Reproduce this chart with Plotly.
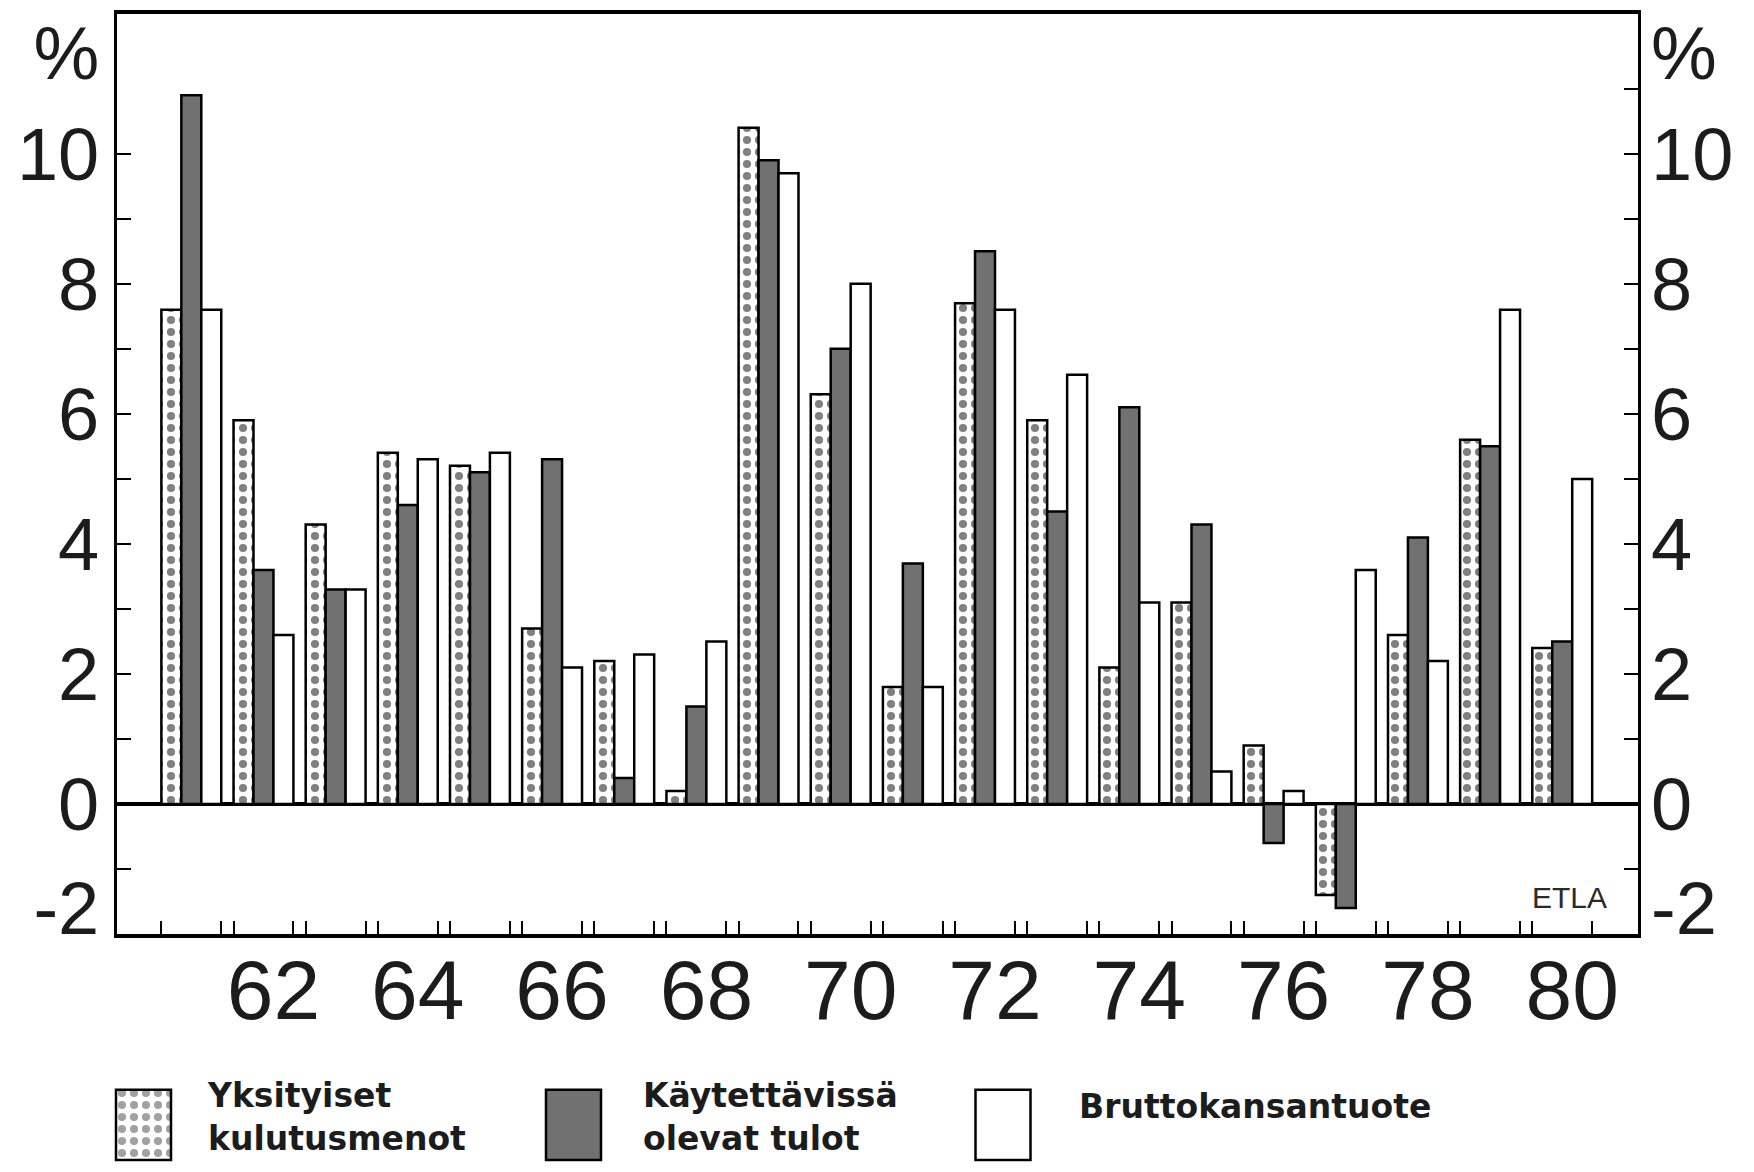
import plotly.graph_objects as go

# ---------------- data ----------------
years = list(range(1961, 1981))
consumption = [7.6, 5.9, 4.3, 5.4, 5.2, 2.7, 2.2, 0.2, 10.4, 6.3,
               1.8, 7.7, 5.9, 2.1, 3.1, 0.9, -1.4, 2.6, 5.6, 2.4]
income = [10.9, 3.6, 3.3, 4.6, 5.1, 5.3, 0.4, 1.5, 9.9, 7.0,
          3.7, 8.5, 4.5, 6.1, 4.3, -0.6, -1.6, 4.1, 5.5, 2.5]
gdp = [7.6, 2.6, 3.3, 5.3, 5.4, 2.1, 2.3, 2.5, 9.7, 8.0,
       1.8, 7.6, 6.6, 3.1, 0.5, 0.2, 3.6, 2.2, 7.6, 5.0]

x_tick_years = [1962, 1964, 1966, 1968, 1970, 1972, 1974, 1976, 1978, 1980]
x_tick_text = ["62", "64", "66", "68", "70", "72", "74", "76", "78", "80"]
y_tick_text = ["-2", "0", "2", "4", "6", "8", "10", "%"]
series_names = ["Yksityiset<br>kulutusmenot", "Käytettävissä<br>olevat tulot", "Bruttokansantuote"]

# ---------------- layout constants ----------------
OFF = 8                      # default page (body) margin around the figure
WF, HF = 1754 - 2 * OFF, 1172 - 2 * OFF
PL, PR, PT, PB = 117, 1638, 14, 934          # plot frame in page pixels
Y_RANGE = [-2, 12.15]
X_RANGE = [1959.97, 1981.05]
BARGAP = 0.17
Y_LABEL_POS = [-1.6, 0, 2, 4, 6, 8, 10, 11.55]  # where the y labels sit
DARK = "#717171"
INK = "#1c1c1c"
FONT = "Liberation Sans, Arial, sans-serif"
LEG_FONT = "DejaVu Sans, sans-serif"


def fx(p):
    return (p - OFF) / WF


def fy(p):
    return (HF - (p - OFF)) / HF


dots = dict(shape=".", fgcolor="black", bgcolor="white", size=12, solidity=0.36)
edge = dict(color="black", width=2.5)

fig = go.Figure()
fig.add_trace(go.Bar(x=years, y=consumption, name=series_names[0],
                     marker=dict(color="white", pattern=dots, line=edge)))
fig.add_trace(go.Bar(x=years, y=income, name=series_names[1],
                     marker=dict(color=DARK, line=edge)))
fig.add_trace(go.Bar(x=years, y=gdp, name=series_names[2],
                     marker=dict(color="white", line=edge)))

# empty helper traces so the overlay tick axes get drawn
for xa, ya in [("x2", "y"), ("x", "y2"), ("x", "y3"), ("x", "y4")]:
    fig.add_trace(go.Scatter(x=[None], y=[None], xaxis=xa, yaxis=ya, mode="markers",
                             showlegend=False, hoverinfo="skip"))

# legend swatches drawn as bars in their own small subplot (x in page pixels)
LEG_X = [143.5, 573.5, 1003]
LEG_W = 55
fig.add_trace(go.Bar(
    x=LEG_X, y=[1, 1, 1], width=LEG_W, xaxis="x3", yaxis="y5",
    marker=dict(color=["white", DARK, "white"],
                pattern=dict(shape=[".", "", ""], fgcolor="black", bgcolor="white",
                             size=12, solidity=0.36),
                line=edge),
    showlegend=False, hoverinfo="skip"))

edges = []
half = (1 - BARGAP) / 2
for yv in years:
    edges += [yv - half, yv + half]

xdom = [fx(PL), fx(PR)]
ydom = [fy(PB), fy(PT)]

xfont = dict(size=84, color=INK, family=FONT)
yfont = dict(size=74, color=INK, family=FONT)
nomargin = dict(automargin=False)

fig.update_layout(
    width=WF, height=HF,
    margin=dict(l=0, r=0, t=0, b=0, pad=0),
    paper_bgcolor="white", plot_bgcolor="white",
    barmode="group", bargap=BARGAP, bargroupgap=0,
    showlegend=False,
    font=dict(family=FONT, color=INK),
    xaxis=dict(domain=xdom, range=X_RANGE, anchor="y", **nomargin,
               tickmode="array", tickvals=x_tick_years, ticktext=x_tick_text,
               ticks="", showgrid=False, zeroline=False,
               showline=True, mirror=True, linewidth=4, linecolor="black",
               tickfont=xfont, ticklabelshift=10, ticklabelstandoff=-20,
               ticklabeloverflow="allow"),
    xaxis2=dict(overlaying="x", anchor="y", side="bottom", range=X_RANGE, **nomargin,
                tickmode="array", tickvals=edges, ticks="inside", ticklen=13,
                tickwidth=2, tickcolor="black", showticklabels=False,
                showgrid=False, zeroline=False, showline=False),
    yaxis=dict(domain=ydom, anchor="x", range=Y_RANGE, showgrid=False, **nomargin,
               zeroline=True, zerolinewidth=3.5, zerolinecolor="black",
               tickmode="array", tickvals=Y_LABEL_POS, ticktext=y_tick_text,
               ticks="", showline=True, mirror=True, linewidth=3, linecolor="black",
               tickfont=yfont, ticklabelstandoff=0, ticklabeloverflow="allow"),
    yaxis2=dict(overlaying="y", anchor="x", side="left", range=Y_RANGE, **nomargin,
                showgrid=False, zeroline=False,
                tickmode="array", tickvals=list(range(-1, 11)), ticks="inside",
                ticklen=14, tickwidth=2, tickcolor="black", showticklabels=False,
                showline=False),
    yaxis3=dict(overlaying="y", anchor="x", side="right", range=Y_RANGE, **nomargin,
                showgrid=False, zeroline=False,
                tickmode="array", tickvals=Y_LABEL_POS, ticktext=y_tick_text,
                ticks="", showline=False,
                tickfont=yfont, ticklabelstandoff=12, ticklabeloverflow="allow"),
    yaxis4=dict(overlaying="y", anchor="x", side="right", range=Y_RANGE, **nomargin,
                showgrid=False, zeroline=False,
                tickmode="array", tickvals=list(range(-1, 12)), ticks="inside",
                ticklen=14, tickwidth=2, tickcolor="black", showticklabels=False,
                showline=False),
    xaxis3=dict(domain=[0, 1], anchor="y5", range=[OFF, OFF + WF], **nomargin,
                visible=False, fixedrange=True),
    yaxis5=dict(domain=[fy(1162), fy(1087)], anchor="x3", **nomargin,
                range=[-0.03, 1.04], visible=False, fixedrange=True),
)

# legend texts
LEG_TEXT_X = [205, 641, 1077]
LEG_TEXT_Y = [1117, 1117, 1106]
for tx, ty, name in zip(LEG_TEXT_X, LEG_TEXT_Y, series_names):
    fig.add_annotation(x=fx(tx), y=fy(ty), xref="paper", yref="paper",
                       xanchor="left", yanchor="middle", showarrow=False, align="left",
                       text="<b>" + name + "</b>",
                       font=dict(size=33, color=INK, family=LEG_FONT))

fig.add_annotation(x=fx(1569), y=fy(897), xref="paper", yref="paper",
                   xanchor="center", yanchor="middle", showarrow=False,
                   text="ETLA", font=dict(size=30, color="#2a2a2a", family=FONT))

fig.write_html("out.html")
